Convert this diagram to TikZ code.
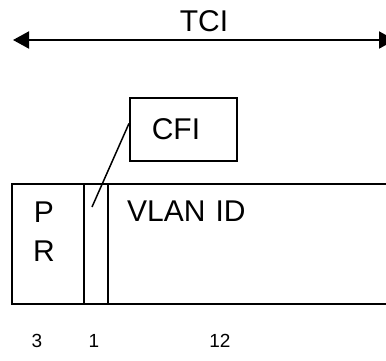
\documentclass[tikz,border=0pt]{standalone}
\usepackage{fontspec}
\setmainfont{Liberation Sans}
\usetikzlibrary{calc,arrows.meta}
\begin{document}
\begin{tikzpicture}[x=1pt,y=-1pt,
  field/.style={draw,line width=1.6pt,inner sep=0pt,anchor=north west,minimum height=120pt},
  bigtext/.style={font=\fontsize{30}{34}\selectfont,inner sep=0pt},
  bits/.style={font=\fontsize{19}{22}\selectfont,inner sep=0pt,anchor=base},
  span/.style={line width=2pt,{Triangle[length=16pt,width=17pt]}-{Triangle[length=16pt,width=17pt]}}]
  \useasboundingbox (0,0) rectangle (386,360);
  \clip (0,0) rectangle (386,360);
  \fill[white] (0,0) rectangle (386,360);

  % overall span of the tag control information
  \coordinate (tl) at (13,40);
  \coordinate (tr) at (395,40);
  \draw[span] (tl) -- (tr);
  \node[bigtext,anchor=base] (tci) at (204,31) {TCI};

  % the three fields of the tag
  \node[field,minimum width=72pt] (pr) at (11,183) {};
  \node[field,minimum width=24pt] (cfibit) at (83,183) {};
  \node[field,minimum width=293pt] (vlan) at (107,183) {};

  \node[bigtext,anchor=base] (p) at (44,222) {P};
  \node[bigtext,anchor=base] (r) at (44,261) {R};
  \node[bigtext,anchor=base west] (vid) at (127,221) {VLAN\,\,ID};

  % callout naming the one-bit field
  \node[draw,line width=1.5pt,minimum width=107pt,minimum height=63pt,inner sep=0pt,anchor=north west] (cfi) at (129,97) {};
  \node[bigtext,anchor=base] (cfitext) at (176,139) {CFI};
  \coordinate (cfiend) at (92,207);
  \draw[line width=1.5pt] ($(cfi.north west)!0.41!(cfi.south west)$) -- (cfiend);

  % field widths in bits
  \node[bits] (n3) at (37,347) {3};
  \node[bits] (n1) at (94,347) {1};
  \node[bits] (n12) at (220,347) {12};
\end{tikzpicture}
\end{document}
